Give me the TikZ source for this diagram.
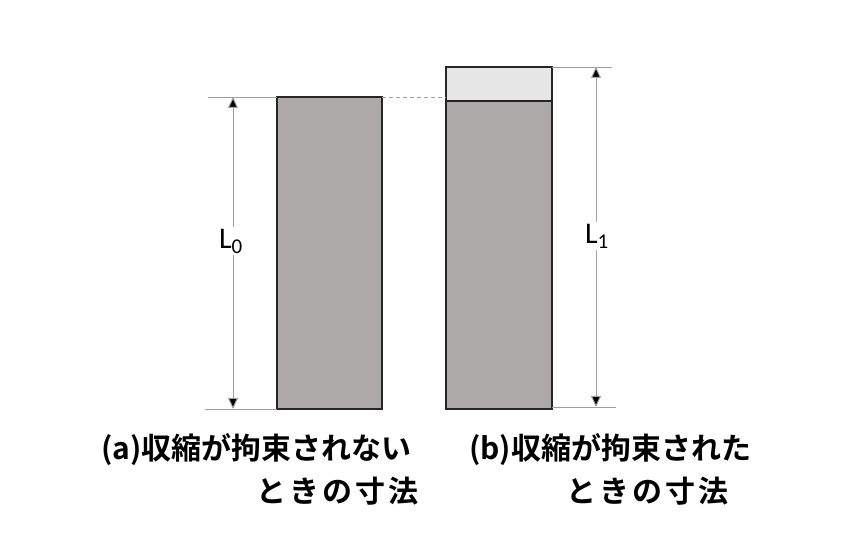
\documentclass[tikz,border=0pt]{standalone}
\usepackage{fontspec}
\setmainfont{Carlito}
\newfontfamily\jpfont{Noto Sans CJK JP}[BoldFont={* Bold}]
\usetikzlibrary{arrows.meta}
\definecolor{barfill}{HTML}{ADA9A8}
\definecolor{topfill}{HTML}{E6E6E6}
\definecolor{dimgray}{HTML}{A0A0A0}
\newcommand{\ks}{\hspace{3pt}}
\begin{document}
\begin{tikzpicture}[x=1pt,y=-1pt,
  bar/.style={draw=black!85,line width=1.3pt},
  ext/.style={draw=dimgray,line width=0.9pt},
  dim/.style={draw=dimgray,line width=1pt,{Triangle[length=11pt,width=10pt,fill=black]}-{Triangle[length=11pt,width=10pt,fill=black]}},
  dimlabel/.style={fill=white,inner sep=2pt,font=\fontsize{30}{32}\selectfont},
  caption/.style={font=\jpfont\bfseries\fontsize{30}{34}\selectfont,inner sep=0pt,anchor=base west}]
\useasboundingbox (0,0) rectangle (860,537);
% bar a
\path[fill=barfill,bar] (277,97) rectangle (382,409);
\coordinate (a1) at (277,97); \coordinate (a2) at (277,409);
% bar b
\path[fill=topfill,bar] (446,67) rectangle (552,101);
\path[fill=barfill,bar] (446,101) rectangle (552,409);
% extension lines a
\coordinate (ea1) at (208,97); \coordinate (ea2) at (205,409);
\draw[ext] (ea1) -- (a1);
\draw[ext] (ea2) -- (a2);
\coordinate (da1) at (382,97); \coordinate (da2) at (446,97);
\draw[ext,dashed,dash pattern=on 4pt off 3pt] (da1) -- (da2);
% dimension a
\coordinate (ta) at (233,97); \coordinate (ba) at (233,409);
\draw[dim] (ta) -- (ba);
\node[dimlabel] (L0) at (231,241) {L\textsubscript{\fontsize{21}{22}\selectfont 0}};
% extension lines b
\coordinate (b1) at (552,67); \coordinate (eb1) at (612,67);
\coordinate (b2) at (552,407); \coordinate (eb2) at (616,407);
\draw[ext] (b1) -- (eb1);
\draw[ext] (b2) -- (eb2);
\coordinate (tb) at (596,67); \coordinate (bb) at (596,407);
\draw[dim] (tb) -- (bb);
\node[dimlabel] (L1) at (597,236) {L\textsubscript{\fontsize{21}{22}\selectfont 1}};
% captions
\node[caption] (ca1) at (101,459) {(a)収縮が拘束されない};
\node[caption,anchor=base east] (ca2) at (419,502) {と\ks き\ks の\ks 寸\ks 法};
\node[caption] (cb1) at (469,459) {(b)収縮が拘束された};
\node[caption] (cb2) at (566,502) {と\ks き\ks の\ks 寸\ks 法};
\end{tikzpicture}
\end{document}
